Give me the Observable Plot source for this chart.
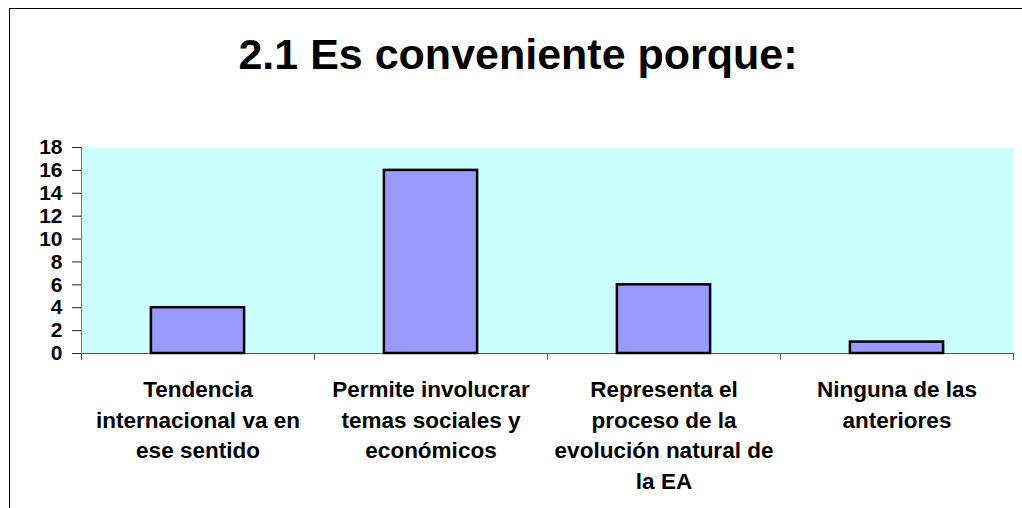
<!DOCTYPE html>
<html>
<head>
<meta charset="utf-8">
<script src="https://cdn.jsdelivr.net/npm/d3@7"></script>
<script src="https://cdn.jsdelivr.net/npm/@observablehq/plot@0.6"></script>
<style>
  html, body { margin: 0; padding: 0; background: #fff; }
  #wrap { position: relative; width: 1022px; height: 508px; overflow: hidden; background: #fff;
          font-family: "Liberation Sans", Arial, sans-serif; }
  #frame { position: absolute; left: 9px; top: 8px; width: 1200px; height: 700px;
           border-left: 1px solid #000; border-top: 1px solid #000; z-index: 2; pointer-events: none; }
  #title { height: 70px; padding-top: 30px; padding-left: 14px; text-align: center;
           font-size: 43px; font-weight: bold; line-height: normal; color: #000; white-space: nowrap; }
  #chart svg { background: transparent !important; display: block; }
</style>
</head>
<body>
<div id="wrap">
  <div id="frame"></div>
  <div id="title">2.1 Es conveniente porque:</div>
  <div id="chart"></div>
</div>
<script>
const categories = [
  "Tendencia\ninternacional va en\nese sentido",
  "Permite involucrar\ntemas sociales y\neconómicos",
  "Representa el\nproceso de la\nevolución natural de\nla EA",
  "Ninguna de las\nanteriores"
];
const values = [4, 16, 6, 1];
const yTicks = [0, 2, 4, 6, 8, 10, 12, 14, 16, 18];

const data = categories.map((c, i) => ({i, label: c, value: values[i]}));
const boundaries = d3.range(categories.length + 1).map(k => k - 0.5);
const halfBar = 0.2;      // bar occupies 40% of each category slot
const tickExtent = -0.6;  // boundary ticks reach slightly below the baseline

const chart = Plot.plot({
  width: 1022,
  height: 408,
  marginLeft: 81,
  marginRight: 9,
  marginTop: 47,
  marginBottom: 155,
  x: {type: "linear", domain: [-0.5, categories.length - 0.5], axis: null},
  y: {domain: [0, 18], axis: null},
  style: {fontFamily: "'Liberation Sans', Arial, sans-serif", fontSize: "22px", fontWeight: "bold", color: "#000", background: "transparent"},
  marks: [
    Plot.frame({fill: "#CCFFFF", stroke: null}),
    Plot.ruleX(boundaries, {y1: 0, y2: tickExtent, stroke: "#555", strokeWidth: 1}),
    Plot.ruleX([boundaries[0]], {y1: 0, y2: 18, stroke: "#777", strokeWidth: 1}),
    Plot.ruleY([0], {stroke: "#555", strokeWidth: 1}),
    Plot.rectY(data, {
      x1: d => d.i - halfBar, x2: d => d.i + halfBar, y1: 0, y2: "value",
      fill: "#9999FF", stroke: "#000", strokeWidth: 2.5
    }),
    Plot.axisY(yTicks, {label: null, tickSize: 9, tickPadding: 10, fontSize: 21, fontWeight: "bold", stroke: "#222", tickFormat: d => String(d)}),
    Plot.text(data, {
      x: "i", y: 0, text: "label", lineAnchor: "top", dy: 22, lineHeight: 1.36,
      fontSize: 22.5, fontWeight: "bold", fill: "#000"
    })
  ]
});
document.getElementById("chart").appendChild(chart);
</script>
</body>
</html>
